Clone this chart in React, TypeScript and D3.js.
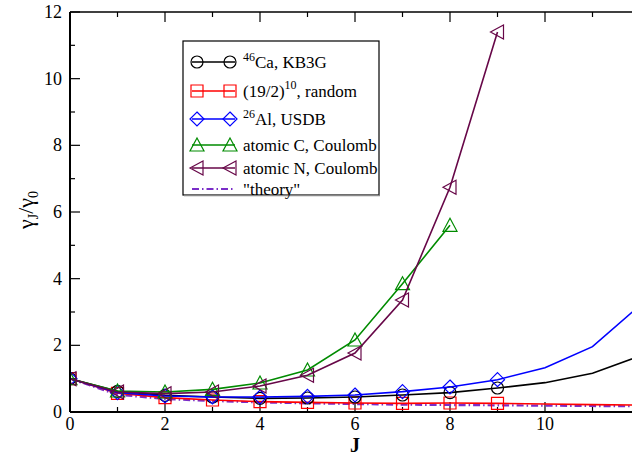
import React from "react";
import * as d3 from "d3";

const J = [0, 1, 2, 3, 4, 5, 6, 7, 8, 9, 10, 11, 12];
const caKB3G = [1.0, 0.62, 0.5, 0.45, 0.41, 0.42, 0.45, 0.51, 0.58, 0.72, 0.88, 1.16, 1.68];
const random19 = [1.0, 0.56, 0.43, 0.36, 0.31, 0.29, 0.27, 0.26, 0.27, 0.26, 0.24, 0.22, 0.21];
const alUSDB = [1.0, 0.58, 0.48, 0.45, 0.45, 0.47, 0.51, 0.61, 0.75, 0.97, 1.33, 1.96, 3.2];
const atomicC = [1.0, 0.63, 0.6, 0.68, 0.87, 1.26, 2.16, 3.85, 5.6];
const atomicN = [1.0, 0.6, 0.55, 0.6, 0.78, 1.1, 1.77, 3.36, 6.74, 11.4];
const theory = [1.0, 0.52, 0.39, 0.33, 0.29, 0.26, 0.24, 0.22, 0.21, 0.2, 0.19, 0.18, 0.17];
const xTicks = [0, 2, 4, 6, 8, 10];
const yTicks = [0, 2, 4, 6, 8, 10, 12];

type Marker = "circle" | "square" | "diamond" | "triUp" | "triLeft" | "none";
interface Series {
  values: number[];
  color: string;
  marker: Marker;
  markerMax: number;
  dash?: string;
  width: number;
}

const series: Series[] = [
  { values: theory, color: "#7a2dc8", marker: "none", markerMax: -1, dash: "7,3,1.5,3", width: 2.2 },
  { values: random19, color: "#ff0000", marker: "square", markerMax: 9, width: 1.6 },
  { values: caKB3G, color: "#000000", marker: "circle", markerMax: 9, width: 1.6 },
  { values: alUSDB, color: "#0000ff", marker: "diamond", markerMax: 9, width: 1.6 },
  { values: atomicC, color: "#008b00", marker: "triUp", markerMax: 9, width: 1.6 },
  { values: atomicN, color: "#670748", marker: "triLeft", markerMax: 9, width: 1.6 },
];

const W = 632;
const H = 455;
const x = d3.scaleLinear().domain([0, 12]).range([70, 640]);
const y = d3.scaleLinear().domain([0, 12]).range([412, 12]);

function markerPath(m: Marker, cx: number, cy: number, s: number): string {
  switch (m) {
    case "square":
      return `M${cx - s},${cy - s}H${cx + s}V${cy + s}H${cx - s}Z`;
    case "diamond":
      return `M${cx},${cy - s - 1}L${cx + s + 1},${cy}L${cx},${cy + s + 1}L${cx - s - 1},${cy}Z`;
    case "triUp":
      return `M${cx},${cy - s - 1}L${cx + s + 1},${cy + s}L${cx - s - 1},${cy + s}Z`;
    case "triLeft":
      return `M${cx - s - 1},${cy}L${cx + s},${cy - s - 1}L${cx + s},${cy + s + 1}Z`;
    default:
      return "";
  }
}

function MarkerShape({ m, cx, cy, color, s = 6 }: { m: Marker; cx: number; cy: number; color: string; s?: number }) {
  if (m === "none") return null;
  if (m === "circle")
    return <circle cx={cx} cy={cy} r={s} fill="none" stroke={color} strokeWidth={1.2} />;
  return <path d={markerPath(m, cx, cy, s)} fill="none" stroke={color} strokeWidth={1.2} />;
}

const font = "'Liberation Serif', 'Times New Roman', Tinos, 'DejaVu Serif', serif";
const ts: React.CSSProperties = { fontFamily: font };

export default function App() {
  const line = d3
    .line<number>()
    .x((_, i) => x(J[i]))
    .y((v) => y(v));

  const minorX = d3.range(0, 13, 1);
  const minorY = d3.range(0, 13, 1);

  const legendRows: { s: Series; label: React.ReactNode }[] = [
    {
      s: series[2],
      label: (
        <>
          <tspan fontSize={12} dy={-7}>46</tspan>
          <tspan dy={7}>Ca, KB3G</tspan>
        </>
      ),
    },
    {
      s: series[1],
      label: (
        <>
          <tspan>(19/2)</tspan>
          <tspan fontSize={12} dy={-8}>10</tspan>
          <tspan dy={8}>, random</tspan>
        </>
      ),
    },
    {
      s: series[3],
      label: (
        <>
          <tspan fontSize={12} dy={-7}>26</tspan>
          <tspan dy={7}>Al, USDB</tspan>
        </>
      ),
    },
    { s: series[4], label: <tspan>atomic C, Coulomb</tspan> },
    { s: series[5], label: <tspan>atomic N, Coulomb</tspan> },
    { s: series[0], label: <tspan>"theory"</tspan> },
  ];
  const rowY = [62, 91, 119, 145, 168, 189];

  return (
    <svg
      width={W}
      height={H}
      style={{ position: "absolute", left: 0, top: 0, background: "#fff", fontFamily: font }}
    >
      <defs>
        <clipPath id="plot">
          <rect x={70} y={12} width={570} height={400} />
        </clipPath>
      </defs>
      <rect x={0} y={0} width={W} height={H} fill="#fff" />

      {minorX.map((t) => {
        const major = t % 2 === 0;
        const len = major ? 10 : 5;
        return (
          <g key={"xt" + t}>
            <line x1={x(t)} x2={x(t)} y1={412} y2={412 - len} stroke="#000" strokeWidth={1.2} />
            <line x1={x(t)} x2={x(t)} y1={12} y2={12 + len} stroke="#000" strokeWidth={1.2} />
          </g>
        );
      })}
      {minorY.map((t) => {
        const major = t % 2 === 0;
        const len = major ? 10 : 5;
        return <line key={"yt" + t} x1={70} x2={70 + len} y1={y(t)} y2={y(t)} stroke="#000" strokeWidth={1.2} />;
      })}

      <g clipPath="url(#plot)">
        {series.map((s, k) => (
          <g key={k}>
            <path
              d={line(s.values) || ""}
              fill="none"
              stroke={s.color}
              strokeWidth={s.width}
              strokeDasharray={s.dash}
            />
            {s.values.map((v, i) =>
              J[i] <= s.markerMax ? (
                <MarkerShape key={i} m={s.marker} cx={x(J[i])} cy={y(v)} color={s.color} />
              ) : null
            )}
          </g>
        ))}
      </g>

      <line x1={70} x2={640} y1={412} y2={412} stroke="#000" strokeWidth={2} />
      <line x1={70} x2={70} y1={12} y2={412} stroke="#000" strokeWidth={2} />
      <line x1={70} x2={640} y1={12} y2={12} stroke="#000" strokeWidth={1.5} />

      {xTicks.map((t) => (
        <text key={"xl" + t} x={x(t)} y={430} textAnchor="middle" fontSize={18} style={ts}>
          {t}
        </text>
      ))}
      {yTicks.map((t) => (
        <text key={"yl" + t} x={62} y={y(t) + 6} textAnchor="end" fontSize={18} style={ts}>
          {t}
        </text>
      ))}

      <text x={x(6)} y={452} textAnchor="middle" fontSize={20} fontWeight="bold" style={ts}>
        J
      </text>
      <text transform="translate(33,210) rotate(-90)" textAnchor="middle" fontSize={22} style={ts}>
        <tspan>γ</tspan>
        <tspan fontSize={14} dy={5}>J</tspan>
        <tspan dy={-5}>/γ</tspan>
        <tspan fontSize={14} dy={5}>0</tspan>
      </text>

      <rect x={183} y={41} width={196} height={154} fill="#fff" stroke="#000" strokeWidth={1.2} />
      <line x1={184} x2={380} y1={195.5} y2={195.5} stroke="#888" strokeWidth={1.5} />
      {legendRows.map((r, i) => (
        <g key={"lg" + i}>
          <line
            x1={192}
            x2={235}
            y1={rowY[i]}
            y2={rowY[i]}
            stroke={r.s.color}
            strokeWidth={r.s.width}
            strokeDasharray={r.s.dash}
          />
          <MarkerShape m={r.s.marker} cx={197} cy={rowY[i]} color={r.s.color} />
          <MarkerShape m={r.s.marker} cx={230} cy={rowY[i]} color={r.s.color} />
          <text x={243} y={rowY[i] + 6} fontSize={17} style={ts}>
            {r.label}
          </text>
        </g>
      ))}
    </svg>
  );
}
